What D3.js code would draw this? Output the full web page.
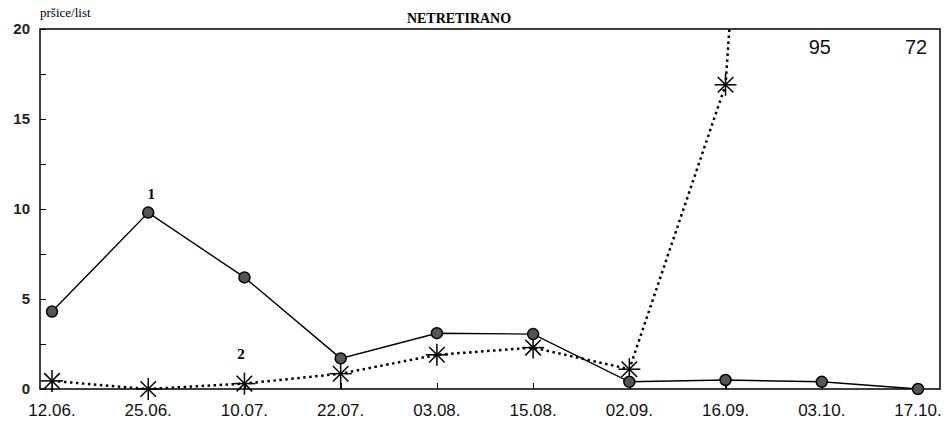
<!DOCTYPE html>
<meta charset="utf-8">
<script src="https://cdn.jsdelivr.net/npm/d3@7"></script>
<style>
body { margin: 0; background: #fff; }
.axis path, .axis line { stroke: #000; stroke-width: 1.5; shape-rendering: crispEdges; }
.serif { font-family: "Liberation Serif", "Times New Roman", serif; fill: #000; }
</style>
<body>
<div id="chart"></div>
<script>
// data
const dates = ["12.06.", "25.06.", "10.07.", "22.07.", "03.08.", "15.08.", "02.09.", "16.09.", "03.10.", "17.10."];
const serie1 = [4.3, 9.8, 6.2, 1.7, 3.1, 3.05, 0.4, 0.5, 0.4, 0];
const serie2 = [0.45, 0, 0.3, 0.85, 1.9, 2.3, 1.1, 16.9, 95, 72];
const yTicks = [0, 5, 10, 15, 20];
const offLabels = [{i: 8, text: "95"}, {i: 9, text: "72"}];

const width = 950, height = 427;
const plotL = 40, plotR = 940, plotT = 29, plotB = 389;

const svg = d3.select("#chart").append("svg")
    .attr("width", width)
    .attr("height", height);

const x = d3.scaleLinear().domain([0, 9]).range([52, 918]);
const y = d3.scaleLinear().domain([0, 20]).range([plotB, plotT]);

// frame
svg.append("rect")
    .attr("x", plotL).attr("y", plotT)
    .attr("width", plotR - plotL).attr("height", plotB - plotT)
    .attr("fill", "none").attr("stroke", "#000").attr("stroke-width", 1.5);

// y axis ticks
svg.append("g")
    .attr("class", "axis")
    .attr("transform", "translate(" + plotL + ",0)")
    .call(d3.axisRight(y).tickValues(d3.range(0, 20.1, 2.5)).tickSize(6).tickFormat(""))
    .call(g => g.select(".domain").remove());

svg.selectAll(".ylab")
    .data(yTicks)
    .enter().append("text")
    .attr("class", "ylab")
    .attr("x", 30)
    .attr("y", d => y(d) + 5)
    .attr("text-anchor", "end")
    .style("font-family", "Liberation Sans, Arial, sans-serif")
    .style("font-size", "15px")
    .style("font-weight", "bold")
    .style("fill", "#222")
    .text(d => d);

// x axis ticks
svg.append("g")
    .attr("class", "axis")
    .attr("transform", "translate(0," + plotB + ")")
    .call(d3.axisTop(x).tickValues(d3.range(0, 10)).tickSize(6).tickFormat(""))
    .call(g => g.select(".domain").remove());

svg.selectAll(".xlab")
    .data(dates)
    .enter().append("text")
    .attr("class", "xlab")
    .attr("x", (d, i) => x(i))
    .attr("y", 416)
    .attr("text-anchor", "middle")
    .style("font-family", "Liberation Sans, Arial, sans-serif")
    .style("font-size", "17px")
    .style("fill", "#111")
    .text(d => d);

// clip lines to plot frame
svg.append("clipPath").attr("id", "plot")
    .append("rect")
    .attr("x", plotL).attr("y", plotT)
    .attr("width", plotR - plotL).attr("height", plotB - plotT + 8);

const line = d3.line()
    .x((d, i) => x(i))
    .y(d => y(d));

svg.append("path")
    .datum(serie2)
    .attr("clip-path", "url(#plot)")
    .attr("fill", "none")
    .attr("stroke", "#000")
    .attr("stroke-width", 2.5)
    .attr("stroke-dasharray", "2.5,3.5")
    .attr("d", line);

svg.append("path")
    .datum(serie1)
    .attr("fill", "none")
    .attr("stroke", "#000")
    .attr("stroke-width", 1.4)
    .attr("d", line);

// asterisk markers for serie 2 (only those inside the frame)
const pts2 = serie2.map((v, i) => ({v, i})).filter(d => d.v <= 20);
svg.selectAll(".star")
    .data(pts2)
    .enter().append("g")
    .attr("class", "star")
    .attr("transform", d => "translate(" + x(d.i) + "," + y(d.v) + ")")
    .each(function() {
        const g = d3.select(this);
        [0, 45, 90, 135].forEach(a => {
            g.append("line")
                .attr("x1", -11).attr("x2", 11)
                .attr("transform", "rotate(" + a + ")")
                .attr("stroke", "#000").attr("stroke-width", 1.5);
        });
    });

// circle markers for serie 1
svg.selectAll(".dot")
    .data(serie1)
    .enter().append("circle")
    .attr("class", "dot")
    .attr("cx", (d, i) => x(i))
    .attr("cy", d => y(d))
    .attr("r", 5.5)
    .attr("fill", "#555")
    .attr("stroke", "#000")
    .attr("stroke-width", 1.5);

// values off the chart
svg.selectAll(".off")
    .data(offLabels)
    .enter().append("text")
    .attr("class", "off")
    .attr("x", d => x(d.i) - 2)
    .attr("y", 54)
    .attr("text-anchor", "middle")
    .style("font-family", "Liberation Sans, Arial, sans-serif")
    .style("font-size", "20px")
    .style("fill", "#111")
    .text(d => d.text);

// titles and series numbers
svg.append("text").attr("class", "serif")
    .attr("x", 459).attr("y", 23)
    .attr("text-anchor", "middle")
    .style("font-size", "14px").style("font-weight", "bold")
    .text("NETRETIRANO");

svg.append("text").attr("class", "serif")
    .attr("x", 40).attr("y", 17)
    .style("font-size", "13px")
    .text("pršice/list");

svg.append("text").attr("class", "serif")
    .attr("x", x(1) + 3).attr("y", y(serie1[1]) - 14)
    .attr("text-anchor", "middle")
    .style("font-size", "15px").style("font-weight", "bold")
    .text("1");

svg.append("text").attr("class", "serif")
    .attr("x", 241).attr("y", 359)
    .attr("text-anchor", "middle")
    .style("font-size", "15px").style("font-weight", "bold")
    .text("2");
</script>
</body>
